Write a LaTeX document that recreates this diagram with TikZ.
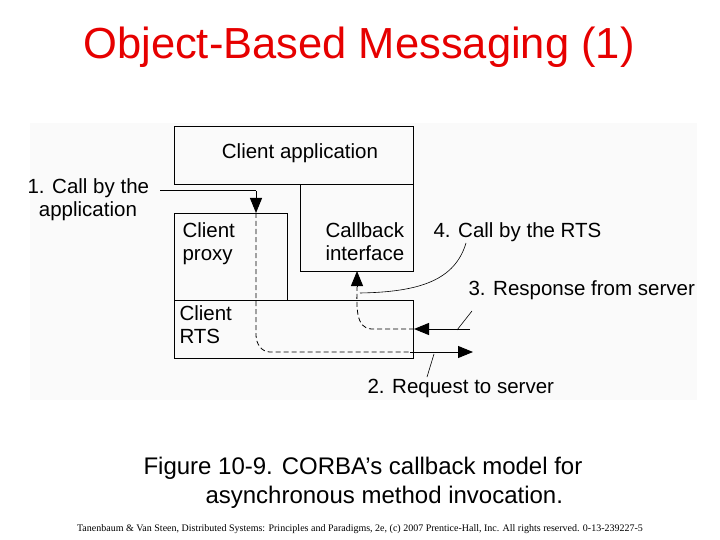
\documentclass[tikz,border=0pt]{standalone}
\usepackage{fontspec}
\setmainfont{Liberation Sans}
\newfontfamily\tnr{Liberation Serif}
\usetikzlibrary{arrows.meta}
\definecolor{titlered}{RGB}{230,0,0}
\begin{document}
\begin{tikzpicture}[x=1pt,y=-1pt,
  box/.style={draw,line width=0.9pt},
  lbl/.style={font=\fontsize{20.5}{23}\selectfont,align=left},
  arr/.style={-{Triangle[length=15pt,width=12pt]},line width=1pt},
  dsh/.style={dashed,line width=0.8pt,dash pattern=on 5pt off 3pt}]
\useasboundingbox (0,0) rectangle (720,540);
\fill[black!2] (30,123) rectangle (697,400);
\node[titlered,font=\fontsize{43.5}{48}\selectfont] (title) at (359,47) {Object-Based Messaging (1)};
\draw[box] (174,126) rectangle (413,184);
\node[lbl] (ca) at (300,153) {Client application};
\draw[box] (300,184) rectangle (413,271);
\node[lbl,anchor=north west] (cb) at (322,219) {Callback\\interface};
\draw[box] (174,213) rectangle (287,300);
\node[lbl,anchor=north west] (cp) at (179,219) {Client\\proxy};
\draw[box] (174,300) rectangle (413,358);
\node[lbl,anchor=north west] (rts) at (176,302) {Client\\RTS};
\node[lbl,anchor=north west] (l1) at (24,175) {1. Call by the\\\ \ application};
\node[lbl,anchor=west] (l4) at (430,232) {4. Call by the RTS};
\node[lbl,anchor=west] (l3) at (465,290) {3. Response from server};
\node[lbl,anchor=west] (l2) at (364,388) {2. Request to server};
\coordinate (a0) at (160,191);
\coordinate (a1) at (256,191);
\coordinate (a2) at (256,213);
\draw[line width=1pt] (a0) -- (a1);
\draw[arr] (a1) -- (a2);
\coordinate (d1) at (270,352);
\coordinate (r1) at (410,352);
\coordinate (r2) at (473,352);
\draw[dsh] (a2) -- (256,335) to[out=270,in=180] (d1) -- (r1);
\draw[arr] (r1) -- (r2);
\coordinate (s1) at (470,329);
\coordinate (s2) at (414,329);
\coordinate (s3) at (357,287);
\coordinate (s4) at (357,271);
\draw[arr] (s1) -- (s2);
\draw[dsh] (s2) -- (372,329) to[out=180,in=270] (s3);
\draw[arr] (s3) -- (s4);
\draw[line width=0.6pt] (466,243) .. controls (455,280) and (420,292) .. (360,293);
\draw[line width=0.6pt] (472,311) -- (457,330);
\draw[line width=0.6pt] (434,354) -- (427,377);
\node[font=\fontsize{24}{29}\selectfont,align=left,anchor=north west] (cap) at (140,454) {Figure 10-9. CORBA’s callback model for\\\hspace*{62pt}asynchronous method invocation.};
\node[font=\tnr\fontsize{10}{12}\selectfont] (foot) at (360,529) {Tanenbaum \& Van Steen, Distributed Systems: Principles and Paradigms, 2e, (c) 2007 Prentice-Hall, Inc. All rights reserved. 0-13-239227-5};
\end{tikzpicture}
\end{document}
